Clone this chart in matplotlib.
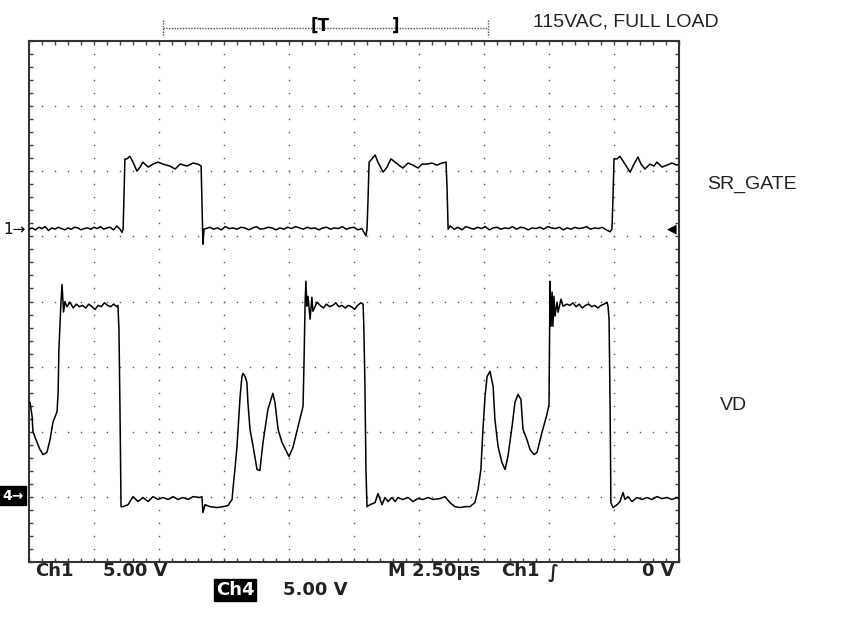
import numpy as np
import matplotlib.pyplot as plt
from matplotlib.ticker import MultipleLocator
from matplotlib.lines import Line2D

# escala del osciloscopio
t_div = 2.5      # us / div
v_div = 5.0      # V / div (Ch1 y Ch4)
ch1_ground = 5.11   # posicion de tierra Ch1 (div desde abajo)
ch4_ground = 1.02   # posicion de tierra Ch4

# SR_GATE (Ch1): tiempo en us, tension en V
sr_gate = [
    (0.0, 0.0), (0.12, 0.1), (0.25, -0.05), (0.38, 0.15), (0.5, 0.05), (0.62, 0.2),
    (0.75, -0.1), (0.88, 0.1), (1.0, 0.0), (1.12, 0.15), (1.25, 0.05), (1.38, -0.05),
    (1.5, 0.1), (1.62, 0.0), (1.75, 0.15), (1.88, 0.1), (2.0, -0.05), (2.12, 0.05),
    (2.25, 0.1), (2.38, 0.0), (2.5, 0.15), (2.62, 0.05), (2.75, 0.2), (2.88, 0.0),
    (3.0, 0.1), (3.12, 0.15), (3.25, -0.05), (3.38, 0.25), (3.5, 0.0), (3.58, -0.25),
    (3.62, 0.0), (3.65, 2.3), (3.69, 5.4), (3.77, 5.4), (3.88, 5.6), (4.0, 5.15),
    (4.15, 4.46), (4.27, 4.77), (4.38, 5.15), (4.58, 4.77), (4.77, 5.0), (4.96, 5.15),
    (5.15, 5.0), (5.42, 4.85), (5.62, 4.62), (5.81, 5.0), (6.08, 4.85), (6.31, 5.08),
    (6.5, 5.0), (6.62, 4.85), (6.65, 2.3), (6.69, -1.15), (6.73, 0.0),
    (6.8, 0.05), (6.95, 0.15), (7.1, 0.0), (7.25, 0.1), (7.4, -0.05), (7.55, 0.2),
    (7.7, 0.05), (7.85, 0.1), (8.0, 0.0), (8.15, 0.15), (8.3, 0.1), (8.45, -0.05),
    (8.6, 0.1), (8.75, 0.2), (8.9, 0.0), (9.05, 0.05), (9.2, 0.15), (9.35, 0.1),
    (9.5, -0.05), (9.65, 0.1), (9.8, 0.0), (9.95, 0.15), (10.1, 0.05), (10.25, 0.2),
    (10.4, 0.1), (10.55, 0.0), (10.7, 0.15), (10.85, 0.05), (11.0, 0.1), (11.15, -0.05),
    (11.3, 0.1), (11.45, 0.15), (11.6, 0.0), (11.75, 0.1), (11.9, 0.05), (12.05, 0.2),
    (12.2, 0.0), (12.35, 0.1), (12.5, 0.15), (12.65, -0.05), (12.8, 0.05), (12.96, -0.5),
    (13.0, 0.0), (13.04, 2.3), (13.08, 5.15), (13.19, 5.4), (13.31, 5.7), (13.42, 5.15),
    (13.62, 4.38), (13.77, 4.77), (13.92, 5.4), (14.08, 5.15), (14.27, 4.85), (14.38, 4.7),
    (14.58, 5.08), (14.77, 4.92), (14.96, 4.7), (15.12, 5.0), (15.31, 5.0), (15.5, 5.08),
    (15.69, 4.92), (15.88, 5.08), (16.04, 5.15), (16.08, 3.1), (16.12, 0.0),
    (16.2, 0.25), (16.35, 0.0), (16.5, 0.15), (16.65, -0.05), (16.8, 0.2), (16.95, 0.1),
    (17.1, 0.0), (17.25, 0.15), (17.4, 0.05), (17.55, 0.2), (17.7, -0.05), (17.85, 0.1),
    (18.0, 0.15), (18.15, 0.0), (18.3, 0.1), (18.45, 0.05), (18.6, 0.2), (18.75, 0.0),
    (18.9, 0.15), (19.05, 0.1), (19.2, -0.05), (19.35, 0.1), (19.5, 0.05), (19.65, 0.15),
    (19.8, 0.0), (19.95, 0.2), (20.1, 0.1), (20.25, 0.05), (20.4, 0.15), (20.55, -0.05),
    (20.7, 0.1), (20.85, 0.0), (21.0, 0.15), (21.15, 0.05), (21.3, 0.1), (21.45, 0.2),
    (21.6, 0.0), (21.75, 0.1), (21.9, 0.05), (22.05, 0.15), (22.2, -0.05), (22.35, -0.2),
    (22.42, 0.0), (22.46, 2.3), (22.5, 5.4), (22.62, 5.4), (22.73, 5.6), (22.92, 5.0),
    (23.12, 4.38), (23.27, 5.0), (23.42, 5.54), (23.54, 5.0), (23.69, 4.62), (23.88, 5.0),
    (24.04, 4.85), (24.15, 5.15), (24.35, 4.77), (24.54, 4.92), (24.73, 5.08), (24.92, 4.92),
    (25.0, 5.0),
]

# VD (Ch4): tiempo en us, tension en V
vd = [
    (0.0, 7.15), (0.04, 7.15), (0.12, 6.08), (0.15, 4.92), (0.31, 4.08), (0.42, 3.54),
    (0.54, 3.15), (0.69, 3.31), (0.81, 4.31), (0.92, 5.62), (1.08, 6.46), (1.12, 7.92),
    (1.15, 11.2), (1.23, 14.85), (1.27, 16.2), (1.31, 14.85), (1.33, 14.1), (1.38, 14.9),
    (1.46, 14.5), (1.58, 14.85),
    (1.7, 14.4), (1.82, 14.7), (1.94, 14.5), (2.06, 14.6), (2.18, 14.4), (2.3, 14.7),
    (2.42, 14.5), (2.54, 14.3), (2.66, 14.6), (2.78, 14.5), (2.9, 14.8), (3.02, 14.6),
    (3.14, 14.5), (3.26, 14.7), (3.38, 14.5),
    (3.42, 14.6), (3.46, 12.8), (3.5, 6.46), (3.54, -0.85), (3.62, -0.85), (3.81, -0.7),
    (4.0, -0.08), (4.19, -0.46), (4.38, -0.15), (4.58, -0.46), (4.77, -0.08), (4.96, -0.3),
    (5.15, -0.15), (5.35, -0.3), (5.54, -0.08), (5.73, -0.3), (5.92, -0.15), (6.12, -0.3),
    (6.31, -0.08), (6.58, -0.15), (6.65, -0.08), (6.69, -1.3), (6.77, -0.7), (6.96, -0.85),
    (7.23, -0.92), (7.46, -0.85), (7.65, -0.77), (7.81, -0.3), (7.85, 0.62), (7.92, 2.0),
    (8.0, 3.77), (8.04, 5.08), (8.12, 7.62), (8.19, 9.15), (8.23, 9.38), (8.31, 9.15),
    (8.38, 8.69), (8.42, 7.15), (8.5, 5.08), (8.62, 3.77), (8.77, 2.0), (8.88, 1.92),
    (9.0, 4.08), (9.19, 6.62), (9.38, 7.85), (9.46, 7.15), (9.58, 5.08), (9.73, 4.08),
    (9.92, 3.31), (10.0, 3.0), (10.15, 3.69), (10.35, 5.31), (10.54, 6.85), (10.58, 10.46),
    (10.62, 14.85), (10.65, 16.46), (10.69, 14.54), (10.73, 15.3), (10.81, 13.54),
    (10.88, 15.23), (10.92, 14.15), (11.08, 14.85),
    (11.2, 14.6), (11.32, 14.4), (11.44, 14.7), (11.56, 14.5), (11.68, 14.6), (11.8, 14.8),
    (11.92, 14.5), (12.04, 14.6), (12.16, 14.4), (12.28, 14.6), (12.4, 14.5), (12.52, 14.3),
    (12.64, 14.6), (12.76, 14.8),
    (12.85, 14.7), (12.88, 12.8), (12.92, 8.54), (12.96, 2.0), (13.0, -0.85), (13.12, -0.7),
    (13.31, -0.54), (13.42, 0.15), (13.58, -0.7), (13.69, -0.15), (13.81, -0.46),
    (13.96, -0.15), (14.08, -0.46), (14.19, -0.15), (14.38, -0.3), (14.58, -0.15),
    (14.77, -0.46), (14.96, -0.23), (15.15, -0.3), (15.35, -0.15), (15.54, -0.3),
    (15.81, -0.23), (16.0, -0.08), (16.19, -0.54), (16.38, -0.85), (16.58, -0.92),
    (16.77, -0.85), (16.96, -0.85), (17.15, -0.54), (17.27, 0.46), (17.38, 2.0),
    (17.46, 5.08), (17.54, 7.62), (17.62, 9.15), (17.73, 9.54), (17.85, 8.38), (17.92, 5.85),
    (18.04, 3.77), (18.19, 2.54), (18.31, 2.0), (18.42, 3.0), (18.58, 5.31), (18.69, 7.15),
    (18.81, 7.77), (18.92, 7.38), (19.0, 5.08), (19.15, 4.31), (19.27, 3.54), (19.42, 3.15),
    (19.54, 3.31), (19.73, 4.85), (19.92, 6.23), (20.0, 7.0), (20.02, 11.46), (20.04, 16.46),
    (20.08, 13.0), (20.12, 15.62), (20.15, 13.0), (20.19, 15.3), (20.23, 13.77),
    (20.31, 14.85), (20.35, 14.08), (20.46, 15.08), (20.54, 14.54), (20.69, 14.7),
    (20.8, 14.6), (20.92, 14.8), (21.04, 14.5), (21.16, 14.7), (21.28, 14.4), (21.4, 14.6),
    (21.52, 14.7), (21.64, 14.5), (21.76, 14.6), (21.88, 14.4), (22.0, 14.6), (22.12, 14.7),
    (22.2, 14.8),
    (22.23, 14.85), (22.27, 14.54), (22.31, 13.54), (22.35, 6.85), (22.38, -0.54),
    (22.46, -0.92), (22.62, -0.7), (22.73, -0.46), (22.85, 0.23), (22.92, -0.3),
    (23.04, -0.08), (23.19, -0.46), (23.38, -0.15), (23.58, -0.3), (23.77, -0.15),
    (23.96, -0.3), (24.15, -0.08), (24.35, -0.23), (24.54, -0.15), (24.73, -0.3),
    (24.92, -0.15), (25.0, -0.23),
]

W, H = 841, 624
fig = plt.figure(figsize=(W / 100, H / 100), dpi=100)
fig.patch.set_facecolor('white')


def fx(px):
    return px / W


def fy(py):
    return 1 - py / H


ax = fig.add_axes([fx(29), fy(562), 650 / W, 521 / H])
ax.set_xlim(0, 10 * t_div)
ax.set_ylim(0, 8)

# reticula punteada
dot = dict(ls='none', marker='s', ms=1.0, mec='none', mfc='#555555', zorder=1)
ys = np.arange(0, 8.001, 0.2)
for k in range(1, 10):
    ax.plot(np.full(ys.size, k * t_div), ys, **dot)
xs = np.arange(0, 25.001, 0.5)
for k in range(1, 8):
    ax.plot(xs, np.full(xs.size, k), **dot)

ax.xaxis.set_major_locator(MultipleLocator(t_div))
ax.xaxis.set_minor_locator(MultipleLocator(t_div / 5))
ax.yaxis.set_major_locator(MultipleLocator(1))
ax.yaxis.set_minor_locator(MultipleLocator(0.2))
ax.tick_params(which='both', direction='in', top=True, right=True, length=3, width=1,
               color='#444444', labelbottom=False, labelleft=False)
for s in ax.spines.values():
    s.set_linewidth(1.5)
    s.set_color('#333333')

# trazas
t1, v1 = zip(*sr_gate)
t4, v4 = zip(*vd)
ax.plot(t1, ch1_ground + np.array(v1) / v_div, color='black', lw=1.1, zorder=3)
ax.plot(t4, ch4_ground + np.array(v4) / v_div, color='black', lw=1.1, zorder=3)

# marcadores de canal
ax.text(-0.12, ch1_ground, '1\u2192', ha='right', va='center', fontsize=11,
        family='DejaVu Sans', clip_on=False)
ax.text(-0.2, ch4_ground, '4\u2192', ha='right', va='center', fontsize=10,
        family='DejaVu Sans', fontweight='bold', color='white', clip_on=False,
        bbox=dict(boxstyle='square,pad=0.15', fc='black', ec='black'))
ax.text(24.9, ch1_ground, '\u25C0', ha='right', va='center', fontsize=9,
        family='DejaVu Sans', clip_on=False)

# barra de disparo superior
fig.add_artist(Line2D([fx(163), fx(488)], [fy(28), fy(28)], transform=fig.transFigure,
                      color='#555555', lw=1, ls=(0, (1, 1))))
for px in (163, 488):
    fig.add_artist(Line2D([fx(px), fx(px)], [fy(20), fy(37)], transform=fig.transFigure,
                          color='#555555', lw=1, ls=(0, (1, 1))))
fig.text(fx(311), fy(26), '[T', fontsize=12, fontweight='bold', family='DejaVu Sans',
         va='center', ha='left')
fig.text(fx(392), fy(26), ']', fontsize=12, fontweight='bold', family='DejaVu Sans',
         va='center', ha='left')

# etiquetas
lab = dict(fontsize=14, family='Liberation Sans', color='#222222', va='center', ha='left')
fig.text(fx(533), fy(22), '115VAC, FULL LOAD', **lab)
fig.text(fx(707), fy(184), 'SR_GATE', **lab)
fig.text(fx(720), fy(405), 'VD', **lab)

# lecturas inferiores
bot = dict(fontsize=13, family='DejaVu Sans', fontweight='bold', color='#222222',
           va='center', ha='left')
fig.text(fx(35), fy(571), 'Ch1', **bot)
fig.text(fx(103), fy(571), '5.00 V', **bot)
fig.text(fx(388), fy(571), 'M 2.50\u00b5s', **bot)
fig.text(fx(501), fy(571), 'Ch1', **bot)
fig.text(fx(548), fy(573), '\u222b', **bot)
fig.text(fx(642), fy(571), '0 V', **bot)
fig.text(fx(216), fy(590), 'Ch4', color='white', fontsize=13, family='DejaVu Sans',
         fontweight='bold', va='center', ha='left',
         bbox=dict(boxstyle='square,pad=0.1', fc='black', ec='black'))
fig.text(fx(283), fy(590), '5.00 V', **bot)

fig.savefig('out.png', dpi=100)
